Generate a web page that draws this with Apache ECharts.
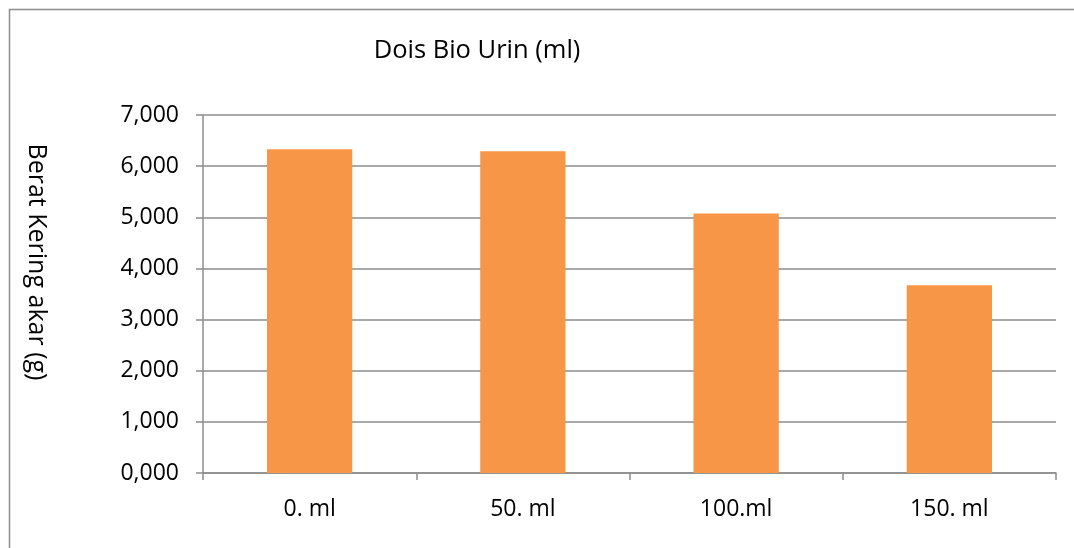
<!DOCTYPE html>
<html>
<head>
<meta charset="utf-8">
<script src="https://cdn.jsdelivr.net/npm/echarts@6/dist/echarts.min.js"></script>
<style>
html,body{margin:0;padding:0;background:#fff;}
#chart{width:1074px;height:548px;}
</style>
</head>
<body>
<div id="chart"></div>
<script>
const categories = ['0. ml', '50. ml', '100.ml', '150. ml'];
const values = [6.328, 6.289, 5.072, 3.672];
const titleText = 'Dois Bio Urin (ml)';
const yAxisTitle = 'Berat Kering akar (g)';

const FONT = '"Open Sans", Lato, "Liberation Sans", sans-serif';
const chart = echarts.init(document.getElementById('chart'), null, {renderer: 'canvas'});
chart.setOption({
  animation: false,
  backgroundColor: '#fff',
  title: {
    text: titleText,
    left: 472, top: 33, textAlign: 'center',
    textStyle: {fontFamily: FONT, fontSize: 25.5, fontWeight: 'normal', color: '#000'}
  },
  graphic: [{
    type: 'rect', left: 7, top: 7, silent: true,
    shape: {width: 1100, height: 600},
    style: {fill: 'none', stroke: '#8c8c8c', lineWidth: 1.5}
  }, {
    type: 'text', x: 36, y: 262, rotation: -Math.PI / 2, silent: true,
    style: {text: yAxisTitle, fontFamily: FONT, fontSize: 25, fill: '#000',
      textAlign: 'center', textVerticalAlign: 'middle'}
  }],
  grid: {left: 203, right: 18, top: 115, bottom: 75, containLabel: false},
  xAxis: {
    type: 'category', data: categories,
    axisLine: {lineStyle: {color: '#8c8c8c', width: 1.5}},
    axisTick: {show: true, length: 7, alignWithLabel: false, lineStyle: {color: '#8c8c8c', width: 1.5}},
    axisLabel: {fontFamily: FONT, fontSize: 23, color: '#000', margin: 25}
  },
  yAxis: {
    type: 'value', min: 0, max: 7, interval: 1,
    axisLine: {show: true, lineStyle: {color: '#8c8c8c', width: 1.5}},
    axisTick: {show: true, length: 7, lineStyle: {color: '#8c8c8c', width: 1.5}},
    splitLine: {lineStyle: {color: '#8c8c8c', width: 1.5}},
    axisLabel: {fontFamily: FONT, fontSize: 23, color: '#000', margin: 24,
      formatter: v => v.toFixed(3).replace('.', ',')}
  },
  series: [{
    type: 'bar', data: values, barWidth: '40%',
    itemStyle: {color: '#F79646'}
  }]
});
</script>
</body>
</html>
